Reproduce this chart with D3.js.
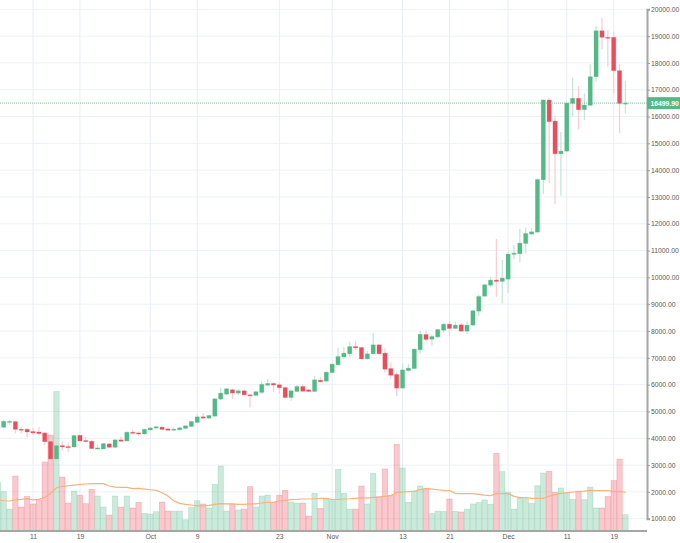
<!DOCTYPE html>
<html>
<head>
<meta charset="utf-8">
<script src="https://cdn.jsdelivr.net/npm/d3@7"></script>
<style>
    html, body { margin: 0; padding: 0; background: #fff; }
    svg { display: block; font-family: "Liberation Sans", Arial, sans-serif; }
    .axis text { fill: #5a5a5a; font-size: 6.8px; }
    .axis .domain { stroke: #a6a6a6; stroke-width: 2px; }
    .axis .tick line { stroke: #9a9a9a; }
</style>
</head>
<body>
<svg id="chart" width="680" height="543"></svg>
<script>
// first bar is 2017-09-05, one bar per day
const startDate = new Date(Date.UTC(2017, 8, 5));

const opens = [4380, 4410, 4610, 4620, 4335, 4335, 4250, 4235, 4200, 3875, 3230, 3725, 3690, 3675, 4110, 3915, 3890, 3600, 3600, 3790,
    3665, 3940, 3900, 4225, 4200, 4160, 4310, 4380, 4415, 4350, 4300, 4315, 4365, 4440, 4590, 4800, 4750, 4825, 5460, 5645,
    5810, 5685, 5770, 5620, 5600, 5710, 5980, 6045, 5995, 5890, 5520, 5745, 5930, 5805, 5745, 6165, 6130, 6450, 6740, 7035,
    7150, 7420, 7385, 6960, 7150, 7485, 7175, 6600, 6380, 5870, 6525, 6600, 7300, 7870, 7695, 7780, 8030, 8255, 8095, 8230,
    7995, 8220, 8740, 9300, 9710, 9900, 9850, 9935, 10860, 10880, 11265, 11615, 11690, 13640, 16615, 15830,
    14610, 14710, 16490, 16680, 16255, 16420, 17485, 19200, 18955, 18955, 17710, 16480];
const closes = [4450, 4635, 4630, 4335, 4300, 4235, 4200, 4175, 3875, 3230, 3725, 3675, 3650, 4100, 3900, 3875, 3615, 3640, 3800, 3665,
    3940, 3890, 4225, 4185, 4160, 4335, 4385, 4430, 4330, 4300, 4340, 4390, 4465, 4625, 4800, 4750, 4850, 5470, 5685, 5845,
    5685, 5770, 5620, 5600, 5735, 6010, 6045, 5985, 5885, 5520, 5770, 5930, 5755, 5745, 6180, 6105, 6465, 6765, 7050, 7175,
    7420, 7370, 6960, 7150, 7485, 7150, 6575, 6350, 5870, 6550, 6615, 7325, 7880, 7685, 7795, 8055, 8255, 8095, 8220, 7995,
    8220, 8755, 9290, 9725, 9900, 9850, 9975, 10870, 10905, 11280, 11640, 11700, 13650, 16620, 15810, 14610,
    14710, 16500, 16680, 16255, 16430, 17485, 19200, 18955, 18930, 17710, 16490, 16500];
const highs = [4480, 4660, 4680, 4640, 4410, 4370, 4370, 4410, 4225, 4000, 3810, 3875, 3840, 4135, 4135, 4060, 3915, 3775, 3825, 3810,
    3960, 4060, 4250, 4310, 4250, 4360, 4420, 4460, 4440, 4370, 4380, 4420, 4490, 4650, 4900, 4940, 4880, 5500, 5880, 5870,
    5845, 5835, 5810, 5640, 5760, 6110, 6205, 6080, 6060, 5930, 5810, 5990, 6015, 5830, 6330, 6280, 6490, 6790, 7370, 7400,
    7600, 7620, 7400, 7275, 7920, 7510, 7360, 6840, 6490, 6800, 6765, 7350, 8010, 8020, 7870, 8080, 8290, 8380, 8345, 8305,
    8355, 8790, 9360, 9760, 10010, 11430, 10645, 10945, 11215, 11815, 11850, 11850, 13700, 16630, 16690, 16030,
    15420, 16520, 17450, 17140, 16865, 17950, 19390, 19690, 19230, 19165, 17950, 17325];
const lows = [4360, 4385, 4500, 4190, 4190, 4025, 4125, 4125, 3750, 3130, 3130, 3540, 3480, 3650, 3875, 3840, 3590, 3565, 3590, 3650,
    3640, 3860, 3880, 4160, 4085, 4140, 4290, 4360, 4310, 4270, 4280, 4295, 4340, 4420, 4570, 4715, 4730, 4800, 5435, 5620,
    5460, 5600, 5600, 5150, 5580, 5660, 5960, 5730, 5660, 5500, 5400, 5720, 5720, 5720, 5720, 6080, 6110, 6430, 6715, 6950,
    7025, 7300, 6940, 6940, 7125, 7125, 6450, 6230, 5580, 5850, 6500, 6590, 7150, 7570, 7460, 7750, 7945, 7795, 8070, 7970,
    7895, 8200, 8570, 9270, 9625, 9275, 9030, 9415, 10680, 10555, 10900, 11590, 11650, 13120, 13520, 12735,
    13045, 14680, 15995, 15520, 15870, 16395, 17300, 18510, 17860, 16865, 15384, 16120];

// volume read against the right hand axis, the pane shares it
const volumes = [2356, 2008, 1360, 2590, 1435, 1830, 1550, 1700, 3115, 4120, 5740, 2555, 1585, 2030, 1880, 1560, 2100, 1845, 1435, 1137,
    1845, 1435, 1845, 1400, 1610, 1200, 1175, 1260, 1620, 1285, 1285, 1285, 960, 1420, 1670, 1550, 1400, 2280, 2965, 1285,
    1550, 1325, 1360, 2195, 1435, 1845, 1880, 1610, 1880, 2055, 1620, 1585, 1585, 1100, 1945, 1385, 1720, 1670, 2840, 1945,
    1360, 1360, 2220, 1550, 2690, 1820, 2855, 1860, 3775, 2890, 1610, 2010, 2220, 2105, 1200, 1285, 1270, 1735, 1275, 1250,
    1360, 1550, 1600, 1700, 1535, 3440, 2755, 1980, 1360, 1760, 1745, 1570, 2230, 2705, 2770, 1980,
    2145, 1970, 1720, 2030, 1710, 2180, 1400, 1400, 1830, 2420, 3225, 1150];
const volumeMa = [1700, 1670, 1660, 1700, 1720, 1745, 1700, 1720, 1795, 1945, 2155, 2205, 2230, 2255, 2280, 2295, 2305, 2305, 2305, 2220,
    2180, 2170, 2170, 2120, 2130, 2105, 2080, 2055, 1970, 1845, 1670, 1570, 1535, 1510, 1475, 1475, 1500, 1535, 1560, 1550,
    1550, 1535, 1535, 1550, 1550, 1585, 1610, 1620, 1660, 1685, 1710, 1720, 1735, 1735, 1745, 1760, 1760, 1710, 1720, 1735,
    1745, 1760, 1785, 1770, 1795, 1810, 1835, 1860, 1970, 1995, 2010, 2030, 2080, 2130, 2105, 2080, 2055, 2050, 1945, 1935,
    1935, 1935, 1910, 1880, 1860, 1935, 1935, 1935, 1835, 1785, 1785, 1760, 1760, 1760, 1845, 1895,
    1945, 1960, 1995, 2010, 2030, 2055, 2045, 2045, 2045, 2010, 2020, 1980];

const timeTicks = [new Date(Date.UTC(2017, 8, 11)), new Date(Date.UTC(2017, 8, 19)), new Date(Date.UTC(2017, 9, 1)),
    new Date(Date.UTC(2017, 9, 9)), new Date(Date.UTC(2017, 9, 23)), new Date(Date.UTC(2017, 10, 1)),
    new Date(Date.UTC(2017, 10, 13)), new Date(Date.UTC(2017, 10, 21)), new Date(Date.UTC(2017, 11, 1)),
    new Date(Date.UTC(2017, 11, 11)), new Date(Date.UTC(2017, 11, 19))];
const timeLabels = ["11", "19", "Oct", "9", "23", "Nov", "13", "21", "Dec", "11", "19"];
const priceTicks = d3.range(1000, 20001, 1000);
const lastPrice = 16499.90;

const UP = "#53b987";
const DOWN = "#eb4d5c";
const plotRight = 647;
const plotBottom = 531;
const volumeBase = 550;

const days = opens.map((d, i) => d3.utcDay.offset(startDate, i));

const x = d3.scaleUtc()
    .domain([timeTicks[0], timeTicks[timeTicks.length - 1]])
    .range([33, 613.7]);
const y = d3.scaleLinear()
    .domain([1000, 20000])
    .range([518.7, 9.3]);

const svg = d3.select("#chart");

svg.append("defs").append("clipPath")
    .attr("id", "plot")
    .append("rect")
    .attr("width", plotRight)
    .attr("height", plotBottom);

// grid
const grid = svg.append("g");
grid.selectAll(".h")
    .data(priceTicks)
    .enter()
    .append("line")
    .attr("x1", 0)
    .attr("x2", plotRight)
    .attr("y1", d => y(d))
    .attr("y2", d => y(d))
    .attr("stroke", "#edf1f6");
grid.selectAll(".v")
    .data(timeTicks)
    .enter()
    .append("line")
    .attr("x1", d => x(d))
    .attr("x2", d => x(d))
    .attr("y1", 0)
    .attr("y2", plotBottom)
    .attr("stroke", "#e8eef4");

const plot = svg.append("g").attr("clip-path", "url(#plot)");

// volume
const bandWidth = x(days[1]) - x(days[0]);
plot.selectAll(".vol")
    .data(volumes)
    .enter()
    .append("rect")
    .attr("x", (d, i) => x(days[i]) - bandWidth / 2 + 0.25)
    .attr("width", bandWidth - 0.5)
    .attr("y", d => y(d))
    .attr("height", d => y(volumeBase) - y(d))
    .attr("fill", (d, i) => closes[i] >= opens[i] ? UP : DOWN)
    .attr("fill-opacity", 0.3)
    .attr("stroke", (d, i) => closes[i] >= opens[i] ? UP : DOWN)
    .attr("stroke-opacity", 0.3)
    .attr("stroke-width", 0.7);

// volume moving average
const maLine = d3.line()
    .x((d, i) => x(days[i]))
    .y(d => y(d));
plot.append("path")
    .attr("d", maLine(volumeMa))
    .attr("fill", "none")
    .attr("stroke", "#f8b27a")
    .attr("stroke-width", 1.2);

// candles
plot.selectAll(".wick")
    .data(highs)
    .enter()
    .append("line")
    .attr("x1", (d, i) => x(days[i]))
    .attr("x2", (d, i) => x(days[i]))
    .attr("y1", d => y(d))
    .attr("y2", (d, i) => y(lows[i]))
    .attr("stroke", (d, i) => closes[i] >= opens[i] ? "#c6e6d6" : "#f9cfd4")
    .attr("stroke-width", 1.3);
plot.selectAll(".body")
    .data(opens)
    .enter()
    .append("rect")
    .attr("x", (d, i) => x(days[i]) - 2.1)
    .attr("width", 4.2)
    .attr("y", (d, i) => y(Math.max(d, closes[i])))
    .attr("height", (d, i) => Math.max(1, Math.abs(y(d) - y(closes[i]))))
    .attr("fill", (d, i) => closes[i] >= d ? UP : DOWN)
    .attr("stroke", (d, i) => closes[i] >= d ? UP : DOWN)
    .attr("stroke-opacity", 0.3)
    .attr("stroke-width", 0.8);

// last price line
plot.append("line")
    .attr("x1", 0)
    .attr("x2", plotRight)
    .attr("y1", y(lastPrice))
    .attr("y2", y(lastPrice))
    .attr("stroke", UP)
    .attr("stroke-opacity", 0.6)
    .attr("stroke-width", 1.4)
    .attr("stroke-dasharray", "1,1");

// axes
const yAxis = d3.axisRight(y)
    .tickValues(priceTicks)
    .tickFormat(d3.format(".2f"))
    .tickSize(3)
    .tickPadding(1);
svg.append("g")
    .attr("class", "axis")
    .attr("transform", `translate(${plotRight},0)`)
    .call(yAxis);

const xAxis = d3.axisBottom(x)
    .tickValues(timeTicks)
    .tickFormat((d, i) => timeLabels[i])
    .tickSize(0)
    .tickPadding(3.5);
svg.append("g")
    .attr("class", "axis")
    .attr("transform", `translate(0,${plotBottom})`)
    .call(xAxis)
    .select(".domain")
    .attr("d", `M0,0H${plotRight}`);

svg.selectAll(".axis .domain").attr("stroke", null);

// last price tag
const tag = svg.append("g").attr("transform", `translate(${plotRight},${y(lastPrice)})`);
tag.append("rect")
    .attr("x", 0)
    .attr("y", -6)
    .attr("width", 33)
    .attr("height", 12)
    .attr("fill", UP);
tag.append("text")
    .attr("x", 3.5)
    .attr("y", 2.5)
    .attr("fill", "#fff")
    .attr("font-size", "6.8px")
    .attr("font-weight", "bold")
    .text(d3.format(".2f")(lastPrice));
</script>
</body>
</html>
